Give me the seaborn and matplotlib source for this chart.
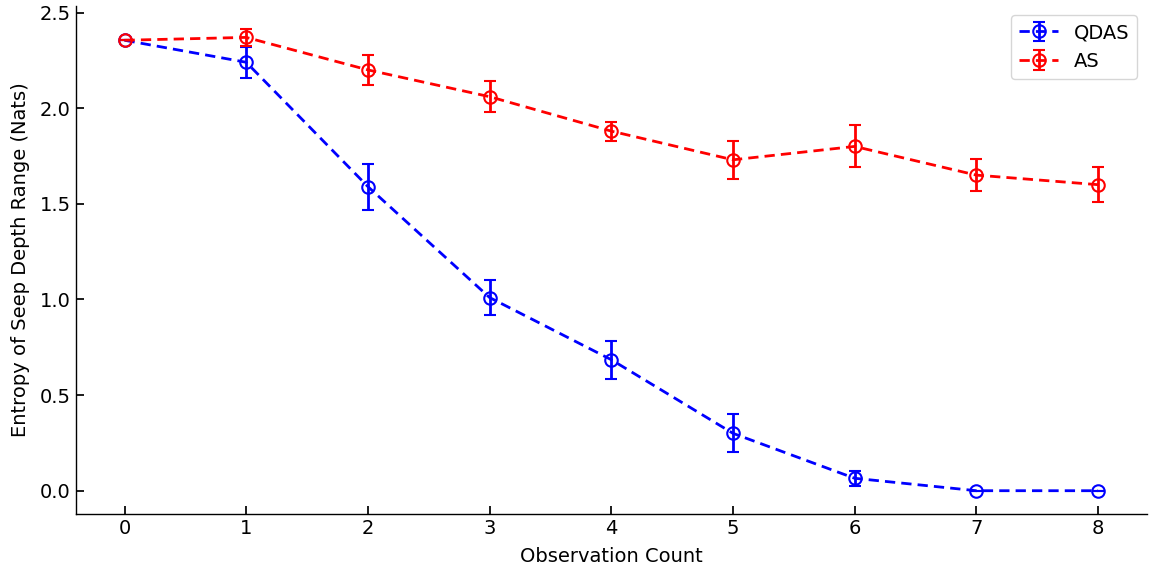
import matplotlib
matplotlib.use("Agg")
import matplotlib.pyplot as plt
import seaborn as sns
import numpy as np

obs = [0, 1, 2, 3, 4, 5, 6, 7, 8]
qdas_mean = [2.355, 2.24, 1.59, 1.01, 0.685, 0.30, 0.065, 0.0, 0.0]
qdas_err = [0.0, 0.08, 0.12, 0.09, 0.10, 0.10, 0.04, 0.0, 0.0]
as_mean = [2.355, 2.37, 2.20, 2.06, 1.88, 1.73, 1.80, 1.65, 1.60]
as_err = [0.0, 0.045, 0.08, 0.08, 0.05, 0.10, 0.11, 0.085, 0.09]

sns.set_theme(style="ticks", rc={
    "text.color": "black", "axes.labelcolor": "black",
    "xtick.color": "black", "ytick.color": "black",
    "axes.edgecolor": "black", "axes.linewidth": 1.0,
    "legend.edgecolor": "0.8",
})
plt.rcParams['font.family'] = ['DejaVu Sans']

fig, ax = plt.subplots(figsize=(11.49, 5.69), dpi=100)

for mean, err, color, label in [(qdas_mean, qdas_err, "blue", "QDAS"),
                                (as_mean, as_err, "red", "AS")]:
    ax.errorbar(obs, mean, yerr=err, fmt="o", linestyle="--", color=color,
                markerfacecolor="none", markeredgecolor=color, markersize=9,
                markeredgewidth=1.5, linewidth=2, capsize=4.5, capthick=2,
                elinewidth=2, label=label, dashes=(3.7, 2.2))

ax.set_xlabel("Observation Count", fontsize=14, labelpad=7)
ax.set_ylabel("Entropy of Seep Depth Range (Nats)", fontsize=14, labelpad=7)
ax.tick_params(direction="in", labelsize=14)
ax.set_xticks(obs)
sns.despine(ax=ax)
ax.legend(loc="upper right", fontsize=14, frameon=True)

fig.subplots_adjust(left=0.066, right=0.998, top=0.99, bottom=0.097)
fig.savefig("out.png", dpi=100)
